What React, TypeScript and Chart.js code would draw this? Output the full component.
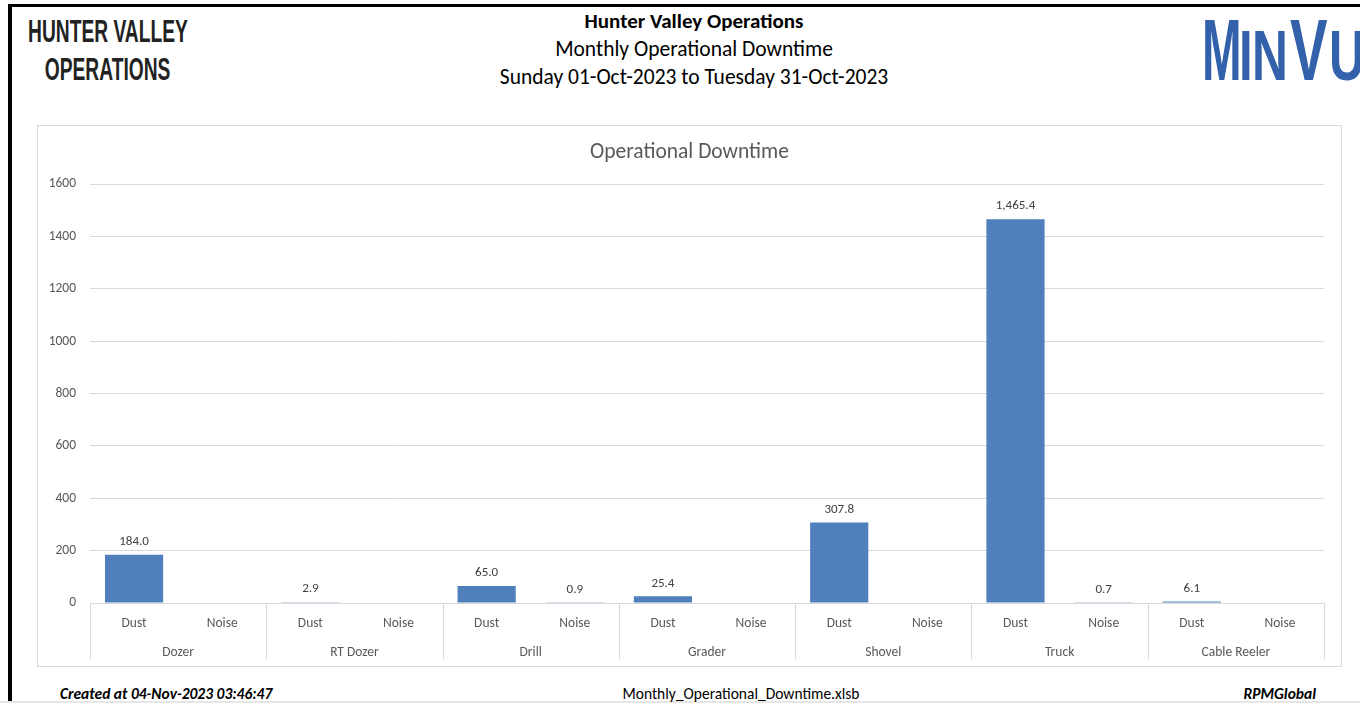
import React, { useEffect, useRef } from "react";
import { Chart, registerables } from "chart.js";

Chart.register(...registerables);

const GROUPS = ["Dozer", "RT Dozer", "Drill", "Grader", "Shovel", "Truck", "Cable Reeler"];
const SUBS = ["Dust", "Noise"];
const DUST = [184.0, 2.9, 65.0, 25.4, 307.8, 1465.4, 6.1];
const NOISE: (number | null)[] = [null, null, 0.9, null, null, 0.7, null];
const Y_MAX = 1600;
const Y_STEP = 200;

const FONT = 'Carlito, Calibri, Lato, "Liberation Sans", sans-serif';
const BAR_COLOR = "#4f7fbd";
const TEXT_GREY = "#595959";

const labels: string[] = [];
const values: (number | null)[] = [];
GROUPS.forEach((g, i) => {
  labels.push(SUBS[0], SUBS[1]);
  values.push(DUST[i], NOISE[i]);
});

const fmt = (v: number) =>
  v.toLocaleString("en-US", { minimumFractionDigits: 1, maximumFractionDigits: 1 });

const overlayPlugin = {
  id: "overlay",
  afterDraw(chart: any) {
    const ctx = chart.ctx;
    const xs = chart.scales.x;
    const area = chart.chartArea;
    const step = xs.getPixelForValue(1) - xs.getPixelForValue(0);
    ctx.save();
    ctx.strokeStyle = "#d9d9d9";
    ctx.lineWidth = 1;
    for (let i = 0; i <= GROUPS.length; i++) {
      const px = Math.round(xs.getPixelForValue(i * 2) - step / 2) + 0.5;
      ctx.beginPath();
      ctx.moveTo(px, area.bottom);
      ctx.lineTo(px, area.bottom + 56);
      ctx.stroke();
    }
    ctx.fillStyle = TEXT_GREY;
    ctx.font = `13.5px ${FONT}`;
    ctx.textAlign = "center";
    ctx.textBaseline = "middle";
    GROUPS.forEach((g, i) => {
      const c = (xs.getPixelForValue(i * 2) + xs.getPixelForValue(i * 2 + 1)) / 2;
      ctx.fillText(g, c, area.bottom + 50);
    });
    ctx.fillStyle = "#404040";
    ctx.font = `13px ${FONT}`;
    const meta = chart.getDatasetMeta(0);
    meta.data.forEach((el: any, idx: number) => {
      const v = values[idx];
      if (v === null || v === undefined) return;
      ctx.fillText(fmt(v), el.x, el.y - 13);
    });
    ctx.restore();
  },
};

function ChartBox() {
  const ref = useRef<HTMLCanvasElement | null>(null);
  useEffect(() => {
    if (!ref.current) return;
    const chart = new Chart(ref.current, {
      type: "bar",
      data: {
        labels,
        datasets: [
          {
            data: values as any,
            backgroundColor: BAR_COLOR,
            borderWidth: 0,
            barPercentage: 0.66,
            categoryPercentage: 1,
          },
        ],
      },
      options: {
        responsive: false,
        animation: false,
        devicePixelRatio: 1,
        layout: { padding: { top: 58, left: 0, right: 17, bottom: 0 } },
        plugins: {
          legend: { display: false },
          tooltip: { enabled: false },
          title: { display: false },
        },
        scales: {
          x: {
            grid: { display: false, drawTicks: false },
            border: { display: true, color: "#d9d9d9" },
            ticks: {
              color: TEXT_GREY,
              font: { family: FONT, size: 13.5 },
              padding: 13,
              maxRotation: 0,
              autoSkip: false,
            },
            afterFit(scale: any) {
              scale.height = 63;
            },
          },
          y: {
            min: 0,
            max: Y_MAX,
            grid: { color: "#d9d9d9", drawTicks: false },
            border: { display: false },
            ticks: {
              stepSize: Y_STEP,
              color: TEXT_GREY,
              font: { family: FONT, size: 13.5 },
              padding: 14,
              callback: (v: any) => String(v),
            },
            afterFit(scale: any) {
              scale.width = 52;
            },
          },
        },
      },
      plugins: [overlayPlugin],
    });
    return () => chart.destroy();
  }, []);
  return <canvas ref={ref} width={1303} height={540} style={{ display: "block" }} />;
}

const logoLetter = (ch: string, left: number, size: number, sx: number) => {
  const top = size > 80 ? 5.5 : 20.7;
  return (
    <span
      key={ch + left}
      style={{
        position: "absolute",
        left,
        top,
        fontSize: size,
        lineHeight: 1,
        transform: `scaleX(${sx})`,
        transformOrigin: "left top",
        whiteSpace: "nowrap",
      }}
    >
      {ch}
    </span>
  );
};

export default function App() {
  return (
    <div
      style={{
        position: "absolute",
        left: 0,
        top: 0,
        width: 1360,
        height: 703,
        overflow: "hidden",
        background: "#fff",
        fontFamily: FONT,
      }}
    >
      <div
        style={{
          position: "absolute",
          left: 8,
          top: 4,
          width: 1400,
          height: 800,
          borderLeft: "4px solid #000",
          borderTop: "3px solid #000",
          boxSizing: "border-box",
        }}
      />
      <div style={{ position: "absolute", left: 0, top: 701, width: 1360, height: 2, background: "#e6e6e6" }} />

      <div
        style={{
          position: "absolute",
          left: 28,
          top: 13,
          fontFamily: '"Liberation Sans", Arial, sans-serif',
          fontWeight: 700,
          fontSize: 31,
          lineHeight: "38px",
          color: "#222",
          transform: "scaleX(0.62)",
          transformOrigin: "left top",
          whiteSpace: "nowrap",
        }}
      >
        <div>HUNTER VALLEY</div>
        <div style={{ paddingLeft: 27 }}>OPERATIONS</div>
      </div>

      <div
        style={{
          position: "absolute",
          left: 394,
          width: 600,
          top: 7,
          textAlign: "center",
          color: "#000",
          fontSize: 21.5,
          lineHeight: "28px",
        }}
      >
        <div style={{ fontWeight: 700, fontSize: 21 }}>Hunter Valley Operations</div>
        <div>Monthly Operational Downtime</div>
        <div>Sunday 01-Oct-2023 to Tuesday 31-Oct-2023</div>
      </div>

      <div
        style={{
          position: "absolute",
          left: 0,
          top: 0,
          width: 1360,
          height: 100,
          fontFamily: '"Liberation Sans", Arial, sans-serif',
          fontWeight: 700,
          color: "#3461ab",
        }}
      >
        {logoLetter("M", 1202, 88, 0.54)}
        {logoLetter("I", 1239, 70, 0.7)}
        {logoLetter("N", 1252, 70, 0.71)}
        {logoLetter("V", 1290, 88, 0.64)}
        {logoLetter("U", 1329, 70, 0.71)}
      </div>

      <div
        style={{
          position: "absolute",
          left: 37,
          top: 125,
          width: 1303,
          height: 540,
          border: "1px solid #d9d9d9",
        }}
      >
        <div
          style={{
            position: "absolute",
            left: 0,
            top: 12,
            width: "100%",
            textAlign: "center",
            fontSize: 21.5,
            color: TEXT_GREY,
            lineHeight: "26px",
          }}
        >
          Operational Downtime
        </div>
        <ChartBox />
      </div>

      <div
        style={{
          position: "absolute",
          left: 60,
          top: 685,
          fontSize: 15.5,
          fontWeight: 700,
          fontStyle: "italic",
          color: "#000",
          lineHeight: "18px",
          whiteSpace: "nowrap",
        }}
      >
        Created at 04-Nov-2023 03:46:47
      </div>
      <div
        style={{
          position: "absolute",
          left: 541,
          width: 400,
          top: 685,
          textAlign: "center",
          fontSize: 15.5,
          color: "#000",
          lineHeight: "18px",
        }}
      >
        Monthly_Operational_Downtime.xlsb
      </div>
      <div
        style={{
          position: "absolute",
          right: 44,
          top: 685,
          fontSize: 15.5,
          fontWeight: 700,
          fontStyle: "italic",
          color: "#000",
          lineHeight: "18px",
        }}
      >
        RPMGlobal
      </div>
    </div>
  );
}
